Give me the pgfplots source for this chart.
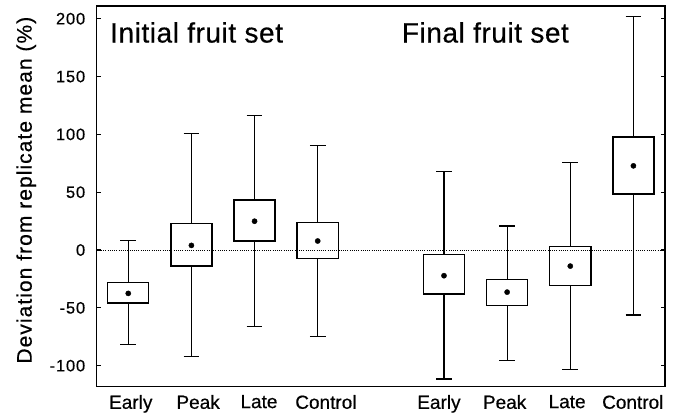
\documentclass[border=0pt]{standalone}
\usepackage{fontspec}
\setmainfont[FakeBold=0.5]{Liberation Sans}
\newfontfamily\tickfont[LetterSpace=5, FakeBold=0.5]{Liberation Sans}
\newfontfamily\titlefont[LetterSpace=2, FakeBold=0.5]{Liberation Sans}
\usepackage{pgfplots}
\usepgfplotslibrary{statistics}
\pgfplotsset{compat=1.18}

\begin{document}
\begin{tikzpicture}
\useasboundingbox (-96.7bp,-33.5bp) rectangle (581.3bp,386.5bp);
\begin{axis}[
  scale only axis, width=568.3bp, height=380.5bp,
  xmin=0.5, xmax=9.5, ymin=-118, ymax=211,
  axis line style={line width=1.4bp},
  ytick={-100,-50,0,50,100,150,200},
  ytick pos=both, tick align=inside, major tick length=4bp,
  tick style={black, line width=1.1bp},
  xtick={1.04,2.106,3.07,4.13,5.92,6.96,7.95,8.99},
  xticklabels={Early,Peak,Late,Control,Early,Peak,Late,Control},
  x tick style={draw=none},
  xticklabel style={font=\fontsize{19bp}{22bp}\selectfont, yshift=-5bp},
  yticklabel style={font=\tickfont\fontsize{16.5bp}{20bp}\selectfont, xshift=-8bp},
  /pgf/number format/assume math mode=true,
  ylabel={Deviation from replicate mean (\%)},
  ylabel style={font=\tickfont\fontsize{21bp}{24bp}\selectfont, at={(axis description cs:-0.124,0.516)}, anchor=center},
  boxplot/draw direction=y,
  boxplot/box extend=0.65,
  boxplot/whisker extend=0.25,
  boxplot/every median/.style={draw=none},
  boxplot/every box/.style={draw=black, line width=1.4bp},
  boxplot/every whisker/.style={draw=black, line width=1.2bp},
]
% Initial fruit set
\addplot[black, boxplot prepared={draw position=1, lower whisker=-81.5, lower quartile=-45.7, median=-37.5, upper quartile=-28.3, upper whisker=8.1}] coordinates {};
\addplot[black, boxplot prepared={draw position=2, lower whisker=-91.9, lower quartile=-13.9, median=4.0, upper quartile=23.1, upper whisker=100.5}] coordinates {};
\addplot[black, boxplot prepared={draw position=3, lower whisker=-66.4, lower quartile=7.8, median=24.9, upper quartile=43.1, upper whisker=116.1}] coordinates {};
\addplot[black, boxplot prepared={draw position=4, lower whisker=-74.5, lower quartile=-7.5, median=7.8, upper quartile=23.7, upper whisker=90.7}] coordinates {};
% Final fruit set
\addplot[black, boxplot prepared={draw position=6, lower whisker=-111.5, lower quartile=-38.1, median=-22.2, upper quartile=-4.0, upper whisker=67.9}] coordinates {};
\addplot[black, boxplot prepared={draw position=7, lower whisker=-95.3, lower quartile=-47.9, median=-36.4, upper quartile=-25.7, upper whisker=20.8}] coordinates {};
\addplot[black, boxplot prepared={draw position=8, lower whisker=-103.4, lower quartile=-30.9, median=-13.9, upper quartile=3.2, upper whisker=75.4}] coordinates {};
\addplot[black, boxplot prepared={draw position=9, lower whisker=-56.1, lower quartile=48.5, median=72.8, upper quartile=97.9, upper whisker=202.2}] coordinates {};
% zero line
\addplot[black, line width=1bp, dash pattern=on 1bp off 1.2bp] coordinates {(0.5,0) (9.5,0)};
% means
\addplot[only marks, mark=*, mark size=2.6bp, black] coordinates {(1,-37.5) (2,4.0) (3,24.9) (4,7.8) (6,-22.2) (7,-36.4) (8,-13.9) (9,72.8)};
\node[anchor=base west, inner sep=0, font=\titlefont\fontsize{28bp}{32bp}\selectfont] at (rel axis cs:0.0234,0.904) {Initial fruit set};
\node[anchor=base west, inner sep=0, font=\titlefont\fontsize{28bp}{32bp}\selectfont] at (rel axis cs:0.5367,0.904) {Final fruit set};
\end{axis}
\end{tikzpicture}
\end{document}
